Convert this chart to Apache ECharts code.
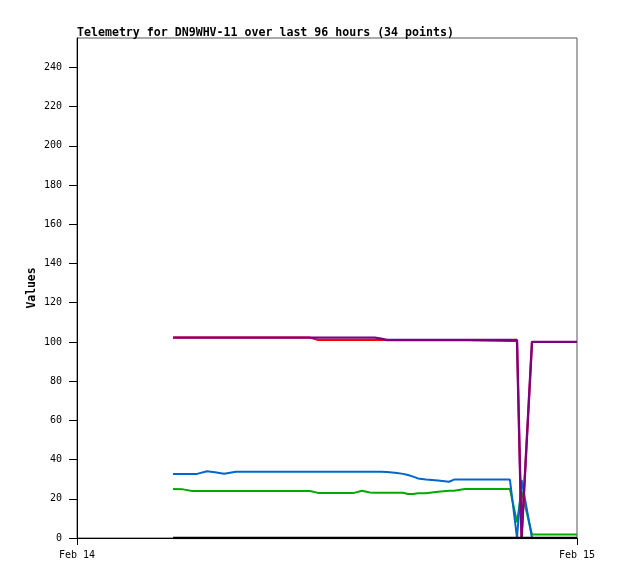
<!DOCTYPE html>
<html>
<head>
<meta charset="utf-8">
<script src="https://cdn.jsdelivr.net/npm/echarts@6/dist/echarts.min.js"></script>
<style>html,body{margin:0;padding:0;background:#fff}#c{width:618px;height:579px}</style>
</head>
<body>
<div id="c"></div>
<script>
// Hours since Feb 14 00:00 for each of the 34 telemetry points
const hours = [4.61, 5.09, 5.52, 5.76, 6.24, 6.62, 7.06, 7.63, 9.74, 11.18, 11.57, 13.30, 13.68, 14.06, 14.30, 14.59, 14.88, 15.36, 15.65, 15.89, 16.13, 16.37, 16.75, 17.33, 17.86, 18.10, 18.62, 20.78, 21.12, 21.34, 21.84, 22.56, 23.28, 24.00];
const redVals = [102.2, 102.2, 102.2, 102.2, 102.2, 102.2, 102.2, 102.2, 102.2, 102.2, 101.0, 101.0, 101.0, 101.0, 101.0, 101.0, 101.0, 101.0, 101.0, 101.0, 101.0, 101.0, 101.0, 101.0, 101.0, 101.0, 101.0, 100.5, 100.5, 0, 100, 100, 100, 100];
const purpleVals = [102.2, 102.2, 102.2, 102.2, 102.2, 102.2, 102.2, 102.2, 102.2, 102.2, 102.2, 102.2, 102.2, 102.2, 102.2, 101.7, 101.0, 101.0, 101.0, 101.0, 101.0, 101.0, 101.0, 101.0, 101.0, 101.0, 101.0, 101.0, 101.0, 0, 100, 100, 100, 100];
const blueVals = [32.7, 32.7, 32.7, 32.7, 34.0, 33.5, 32.8, 33.8, 33.8, 33.8, 33.8, 33.8, 33.8, 33.8, 33.8, 33.8, 33.7, 33.2, 32.7, 32.1, 31.3, 30.4, 29.8, 29.3, 28.7, 29.8, 29.8, 29.8, 0, 29.6, 0, 0, 0, 0];
const greenVals = [25.0, 24.8, 24.0, 24.0, 24.0, 24.0, 24.0, 24.0, 24.0, 24.0, 23.0, 23.0, 24.1, 23.2, 23.1, 23.1, 23.1, 23.1, 23.1, 22.4, 22.4, 22.8, 22.8, 23.6, 24.1, 24.1, 25.0, 25.0, 8, 24, 1.8, 1.8, 1.8, 1.8];
const blackVals = [0, 0, 0, 0, 0, 0, 0, 0, 0, 0, 0, 0, 0, 0, 0, 0, 0, 0, 0, 0, 0, 0, 0, 0, 0, 0, 0, 0, 0, 0, 0, 0, 0, 0];
const xTickLabels = ['Feb 14', 'Feb 15'];
const titleText = 'Telemetry for DN9WHV-11 over last 96 hours (34 points)';

const pair = v => hours.map((h, i) => [h, v[i]]);
const mk = (vals, color, z, w) => ({
  type: 'line', data: pair(vals), showSymbol: false, symbol: 'none', z: z,
  lineStyle: { color: color, width: w || 2 }, itemStyle: { color: color }, animation: false
});
const chart = echarts.init(document.getElementById('c'), null, { renderer: 'canvas' });
chart.setOption({
  animation: false,
  backgroundColor: '#fff',
  title: {
    text: titleText, left: 72, top: 22,
    textStyle: { fontFamily: 'DejaVu Sans Mono', fontWeight: 'bold', fontSize: 11.6, color: '#000' }
  },
  grid: { left: 77, right: 41, top: 38, bottom: 41, show: true, borderColor: '#555', borderWidth: 1, backgroundColor: 'transparent' },
  xAxis: {
    type: 'value', min: 0, max: 24, interval: 24,
    axisLine: { show: true, lineStyle: { color: '#000', width: 1 } },
    axisTick: { show: true, length: 7, lineStyle: { color: '#000' } },
    splitLine: { show: false },
    axisLabel: {
      showMinLabel: true, showMaxLabel: true, margin: 12,
      fontFamily: 'DejaVu Sans Mono', fontSize: 10, color: '#000',
      formatter: v => v === 0 ? xTickLabels[0] : (v === 24 ? xTickLabels[1] : '')
    }
  },
  yAxis: {
    type: 'value', min: 0, max: 255, interval: 20,
    name: 'Values', nameLocation: 'middle', nameGap: 39, nameRotate: 90, nameMoveOverlap: false,
    nameTextStyle: { fontFamily: 'DejaVu Sans Mono', fontWeight: 'bold', fontSize: 11.4, color: '#000' },
    axisLine: { show: true, lineStyle: { color: '#000', width: 1 } },
    axisTick: { show: true, length: 8, lineStyle: { color: '#000' } },
    splitLine: { show: false },
    axisLabel: {
      showMaxLabel: false, margin: 15,
      fontFamily: 'DejaVu Sans Mono', fontSize: 10, color: '#000',
      formatter: v => (v % 20 === 0 && v <= 240) ? String(v) : ''
    }
  },
  series: [
    mk(greenVals, '#00aa00', 2),
    mk(blueVals, '#0066cc', 3),
    mk(redVals, '#ff0000', 4),
    mk(purpleVals, '#7f007f', 5, 2.4),
    mk(blackVals, '#000000', 6, 2.5)
  ]
});
</script>
</body>
</html>
